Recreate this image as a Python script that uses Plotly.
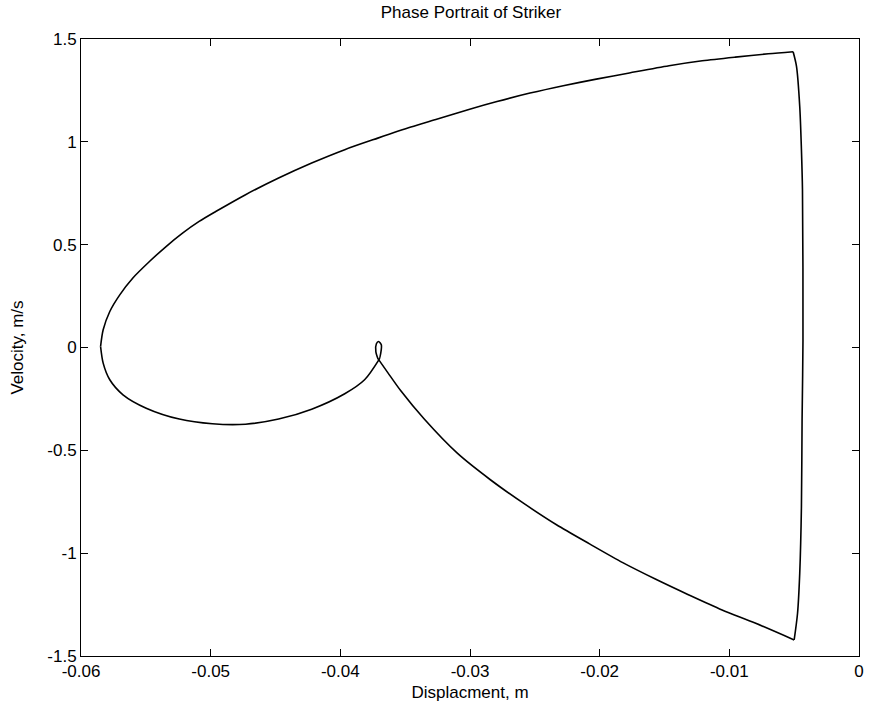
import plotly.graph_objects as go

# Phase portrait of the striker: displacement (m) vs velocity (m/s),
# stored branch by branch so each smooth arc can be drawn separately.

# small loop around the rest position
loop_x = [-0.03703, -0.03726, -0.03722, -0.03705, -0.03684, -0.03688, -0.03703]
loop_v = [-0.060, -0.021, 0.018, 0.029, 0.013, -0.026, -0.060]

# descending branch towards the impact point
fall_x = [-0.03703, -0.03634, -0.03532, -0.03353, -0.03098, -0.02843, -0.02588,
          -0.02333, -0.02078, -0.01822, -0.01567, -0.01312, -0.01056, -0.00801,
          -0.00500]
fall_v = [-0.060, -0.122, -0.212, -0.348, -0.514, -0.643, -0.757,
          -0.862, -0.955, -1.046, -1.127, -1.203, -1.276, -1.340,
          -1.422]

# rebound at the impact point (near-vertical)
impact_x = [-0.00500, -0.00474, -0.00457, -0.00444, -0.00439, -0.00432,
            -0.00436, -0.00444, -0.00457, -0.00482, -0.00508]
impact_v = [-1.422, -1.292, -1.097, -0.773, -0.352, 0.037,
            0.767, 0.962, 1.172, 1.367, 1.438]

# return stroke with positive velocity
rise_x = [-0.00508, -0.00699, -0.00954, -0.01209, -0.01465, -0.01771, -0.02026,
          -0.02281, -0.02537, -0.02792, -0.02996, -0.03251, -0.03456, -0.03711,
          -0.03966, -0.04221, -0.04476, -0.04731, -0.04961, -0.05089, -0.05217,
          -0.05344, -0.05472, -0.05600, -0.05701, -0.05778, -0.05829, -0.05849]
rise_v = [1.438, 1.428, 1.412, 1.394, 1.370, 1.335, 1.305,
          1.273, 1.237, 1.196, 1.160, 1.111, 1.072, 1.018,
          0.962, 0.897, 0.824, 0.743, 0.661, 0.613, 0.556,
          0.491, 0.418, 0.338, 0.256, 0.175, 0.086, 0.005]

# swing back to the rest position
settle_x = [-0.05849, -0.05829, -0.05778, -0.05676, -0.05497, -0.05242, -0.04987,
            -0.04731, -0.04476, -0.04221, -0.03966, -0.03813, -0.03703]
settle_v = [0.005, -0.076, -0.157, -0.230, -0.295, -0.348, -0.371,
            -0.373, -0.348, -0.300, -0.225, -0.157, -0.060]

x_ticks = [-0.06, -0.05, -0.04, -0.03, -0.02, -0.01, 0]
x_tick_text = ["-0.06", "-0.05", "-0.04", "-0.03", "-0.02", "-0.01", "0"]
y_ticks = [-1.5, -1, -0.5, 0, 0.5, 1, 1.5]
y_tick_text = ["-1.5", "-1", "-0.5", "0", "0.5", "1", "1.5"]

FONT = "Liberation Sans, Arial, Helvetica, sans-serif"
FSIZE = 17

fig = go.Figure()
for xs, vs in [(loop_x, loop_v), (fall_x, fall_v), (impact_x, impact_v),
               (rise_x, rise_v), (settle_x, settle_v)]:
    fig.add_trace(go.Scatter(
        x=xs, y=vs, mode="lines",
        line=dict(color="black", width=1.6, shape="spline", smoothing=0.8),
        showlegend=False, hoverinfo="skip",
    ))

axis_common = dict(
    showline=True, linecolor="black", linewidth=1, mirror="ticks",
    ticks="inside", ticklen=7, tickcolor="black", tickwidth=1,
    showgrid=False, zeroline=False,
    tickfont=dict(family=FONT, size=FSIZE, color="black"),
)

fig.update_layout(
    width=874, height=709,
    margin=dict(l=81, r=10, t=39, b=53),
    paper_bgcolor="white", plot_bgcolor="white",
    title=dict(text="Phase Portrait of Striker", x=471 / 874,
               xanchor="center", y=1 - 12 / 709, yanchor="middle",
               font=dict(family=FONT, size=FSIZE, color="black")),
    xaxis=dict(range=[-0.06, 0], tickvals=x_ticks, ticktext=x_tick_text,
               title=dict(text="Displacment, m", standoff=5,
                          font=dict(family=FONT, size=FSIZE, color="black")),
               **axis_common),
    yaxis=dict(range=[-1.5, 1.5], tickvals=y_ticks, ticktext=y_tick_text,
               title=dict(text="Velocity, m/s", standoff=19,
                          font=dict(family=FONT, size=FSIZE, color="black")),
               **axis_common),
)

fig.write_html("out.html")
